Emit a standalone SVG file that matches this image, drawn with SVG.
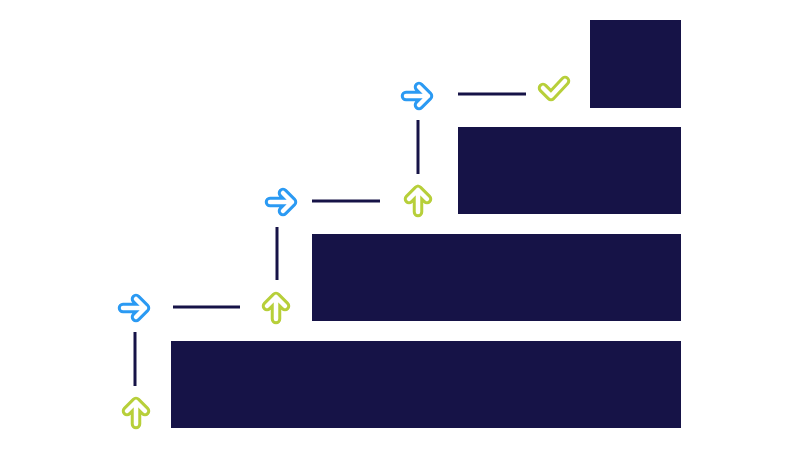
<svg xmlns="http://www.w3.org/2000/svg" xmlns:xlink="http://www.w3.org/1999/xlink" width="800" height="450" viewBox="0 0 800 450">
<style>
.bar{fill:#161347}
.conn{stroke:#161347;stroke-width:3;fill:none}
.o{fill:none;stroke-width:10.5;stroke-linecap:round;stroke-linejoin:round}
.i{fill:none;stroke:#ffffff;stroke-width:4.5;stroke-linecap:round;stroke-linejoin:round}
.blue{stroke:#2b9af3}
.green{stroke:#b7cf3a}
</style>
<defs>
<g id="arrowBlue"><path class="o blue" d="M-12,0H10M1,-9L10,0L1,9"/><path class="i" d="M-12,0H10M1,-9L10,0L1,9"/></g>
<g id="arrowGreen"><path class="o green" d="M-12,0H10M1,-9L10,0L1,9"/><path class="i" d="M-12,0H10M1,-9L10,0L1,9"/></g>
<g id="check"><path class="o green" d="M-11,-1L-3,7L11,-8"/><path class="i" d="M-11,-1L-3,7L11,-8"/></g>
</defs>
<rect width="800" height="450" fill="#ffffff"/>
<g id="step1"><rect class="bar" x="171" y="341" width="510" height="87"/></g>
<g id="step2"><rect class="bar" x="312" y="234" width="369" height="87"/></g>
<g id="step3"><rect class="bar" x="458" y="127" width="223" height="87"/></g>
<g id="step4"><rect class="bar" x="590" y="20" width="91" height="88"/></g>
<g id="connectors">
<line class="conn" x1="135" y1="332" x2="135" y2="386"/>
<line class="conn" x1="173" y1="307" x2="240" y2="307"/>
<line class="conn" x1="277" y1="227" x2="277" y2="280"/>
<line class="conn" x1="312" y1="201" x2="380" y2="201"/>
<line class="conn" x1="418" y1="120" x2="418" y2="174"/>
<line class="conn" x1="458" y1="94" x2="526" y2="94"/>
</g>
<g id="up1"><use xlink:href="#arrowGreen" transform="translate(136,412) rotate(-90)"/></g>
<g id="right1"><use xlink:href="#arrowBlue" transform="translate(135,308)"/></g>
<g id="up2"><use xlink:href="#arrowGreen" transform="translate(276,307) rotate(-90)"/></g>
<g id="right2"><use xlink:href="#arrowBlue" transform="translate(282,202)"/></g>
<g id="up3"><use xlink:href="#arrowGreen" transform="translate(418,200) rotate(-90)"/></g>
<g id="right3"><use xlink:href="#arrowBlue" transform="translate(418,96)"/></g>
<g id="done"><use xlink:href="#check" transform="translate(554,89)"/></g>
</svg>
